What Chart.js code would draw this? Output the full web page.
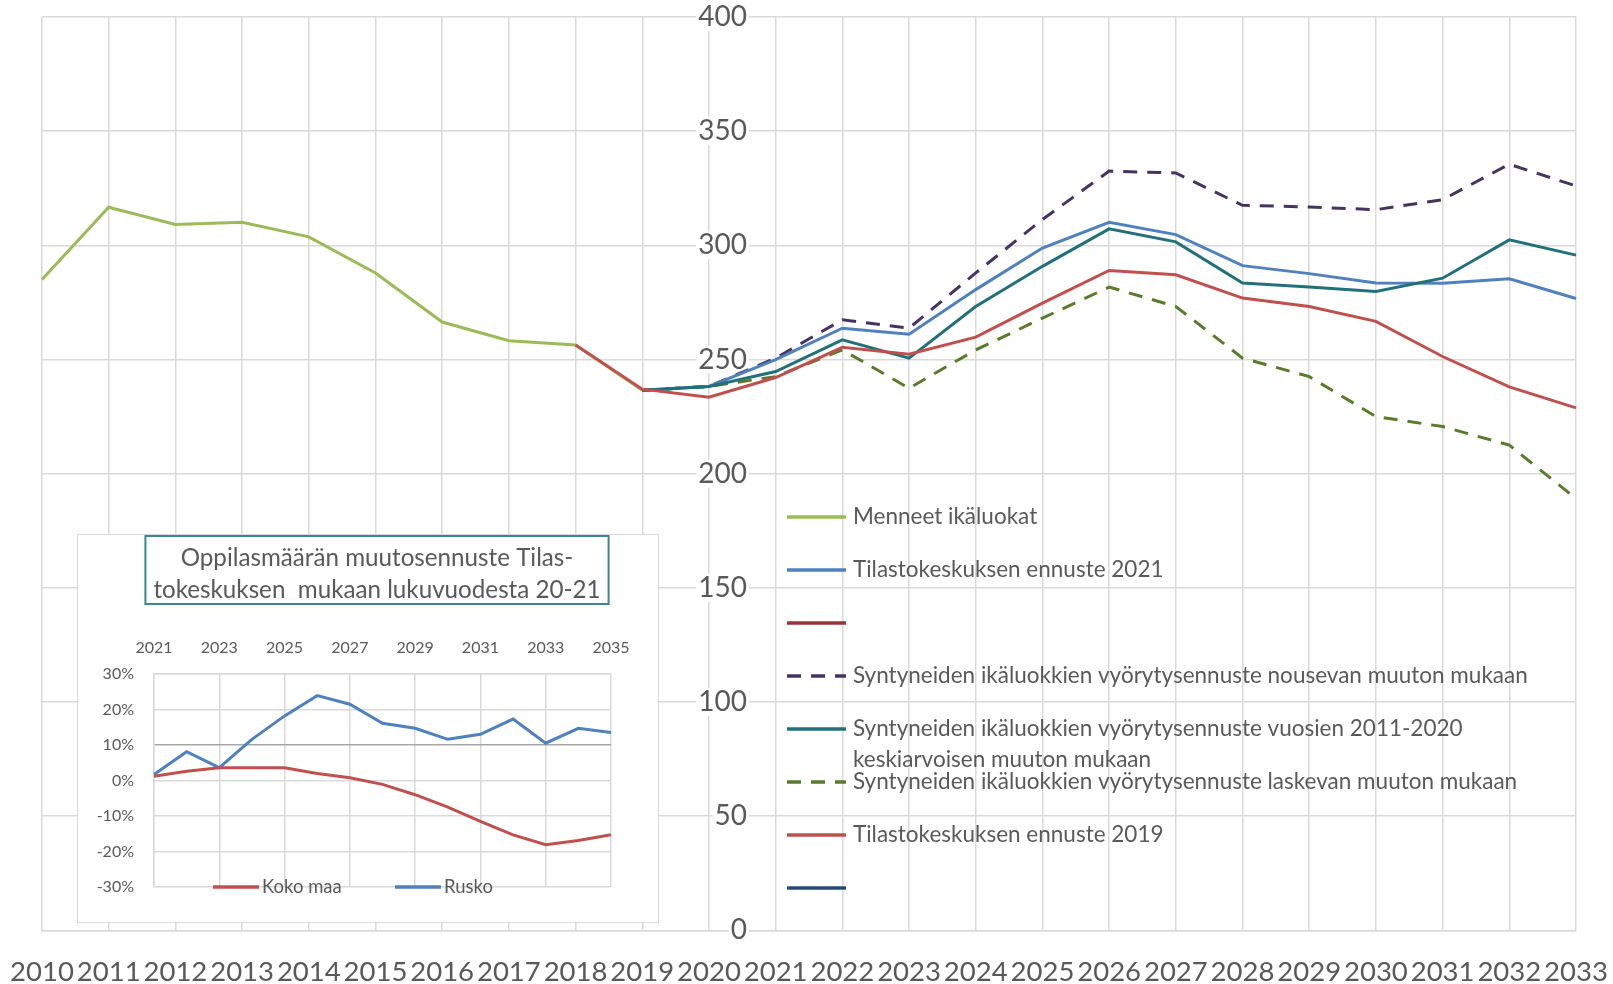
<!DOCTYPE html>
<html><head><meta charset="utf-8">
<script src="https://cdn.jsdelivr.net/npm/chart.js@4/dist/chart.umd.min.js"></script>
<style>
html,body{margin:0;padding:0;background:#fff;}
#wrap{position:relative;width:1613px;height:984px;overflow:hidden;}
#main{position:absolute;left:0;top:0;}
#insetBox{position:absolute;left:77px;top:534px;width:580px;height:387px;background:#fff;border:1px solid #d9d9d9;}
#inset{position:absolute;left:77px;top:534px;}
</style></head>
<body><div id="wrap">
<canvas id="main" width="1613" height="984"></canvas>
<div id="insetBox"></div>
<canvas id="inset" width="600" height="388"></canvas>
</div>
<script>
// ---- main chart data ----
const years = ['2010','2011','2012','2013','2014','2015','2016','2017','2018','2019','2020','2021',
               '2022','2023','2024','2025','2026','2027','2028','2029','2030','2031','2032','2033'];
const yTicks = [0, 50, 100, 150, 200, 250, 300, 350, 400];
const menneet = [285.0, 316.7, 309.1, 310.1, 303.7, 287.9, 266.4, 258.2, 256.3, 236.5,
                 null, null, null, null, null, null, null, null, null, null, null, null, null, null];
const ennuste2021 = [null, null, null, null, null, null, null, null, null, 236.5, 238.2, 249.9,
                     263.7, 261.1, 280.6, 298.8, 310.1, 304.7, 291.1, 287.6, 283.5, 283.4, 285.3, 276.7];
const tyhja1 = [];
const nousevan = [null, null, null, null, null, null, null, null, null, 236.5, 238.2, 250.6,
                  267.4, 263.7, 287.9, 311.3, 332.5, 331.7, 317.5, 316.8, 315.6, 320.0, 335.5, 326.0];
const keskiarvo = [null, null, null, null, null, null, null, null, null, 236.5, 238.2, 244.7,
                   258.6, 250.6, 273.2, 290.8, 307.2, 301.5, 283.5, 281.7, 279.8, 285.6, 302.4, 295.7];
const laskevan = [null, null, null, null, null, null, null, null, null, 236.5, 238.2, 242.5,
                  254.2, 237.4, 254.2, 268.1, 281.7, 273.2, 250.6, 242.5, 225.0, 220.6, 212.5, 189.1];
const ennuste2019 = [null, null, null, null, null, null, null, null, 256.3, 237.0, 233.5, 242.1,
                     255.3, 252.3, 259.8, 274.7, 289.0, 287.1, 276.9, 273.2, 266.7, 251.3, 238.0, 228.8];
const tyhja2 = [];
const seriesNames = [
  'Menneet ikäluokat',
  'Tilastokeskuksen ennuste 2021',
  '',
  'Syntyneiden ikäluokkien vyörytysennuste nousevan muuton mukaan',
  'Syntyneiden ikäluokkien vyörytysennuste vuosien 2011-2020\nkeskiarvoisen muuton mukaan',
  'Syntyneiden ikäluokkien vyörytysennuste laskevan muuton mukaan',
  'Tilastokeskuksen ennuste 2019',
  ''
];

// ---- inset chart data ----
const insetYears = ['2021','2022','2023','2024','2025','2026','2027','2028','2029','2030','2031','2032','2033','2034','2035'];
const insetTicks = [-30, -20, -10, 0, 10, 20, 30];
const kokoMaa = [1.2, 2.6, 3.6, 3.6, 3.6, 2.0, 0.8, -1.1, -4.0, -7.5, -11.5, -15.3, -18.1, -16.9, -15.3];
const rusko = [1.7, 8.1, 3.6, 11.6, 18.2, 23.9, 21.5, 16.1, 14.7, 11.6, 13.0, 17.3, 10.5, 14.7, 13.5];
const insetSeriesNames = ['Koko maa', 'Rusko'];
const insetTitle = ['Oppilasmäärän muutosennuste Tilas-', 'tokeskuksen  mukaan lukuvuodesta 20-21'];

const FONT = 'Lato';
const TXT = '#595959';
const GRID = '#d9d9d9';

const fixedLegend = {
  id: 'fixedLegend',
  afterDraw(chart, args, o) {
    if (!o || !o.items) return;
    const ctx = chart.ctx, ca = chart.chartArea;
    ctx.save();
    o.items.forEach((it) => {
      const ds = chart.data.datasets[it.ds];
      const x = ca.left + it.dx;
      const y = (it.fromBottom ? ca.bottom : ca.top) + it.dy;
      ctx.beginPath();
      ctx.setLineDash(ds.borderDash || []);
      ctx.strokeStyle = ds.borderColor;
      ctx.lineWidth = o.lineWidth;
      ctx.moveTo(x, y);
      ctx.lineTo(x + o.sampleLen, y);
      ctx.stroke();
      ctx.setLineDash([]);
      ctx.fillStyle = o.color;
      ctx.font = o.font;
      ctx.textBaseline = 'middle';
      ctx.textAlign = 'left';
      String(ds.label).split('\n').forEach((t, j) => {
        if (t) ctx.fillText(t, x + o.sampleLen + o.gap, y + j * o.lineGap);
      });
    });
    ctx.restore();
  }
};

// title drawn in the reserved top padding of the inset, with its frame
const boxedTitle = {
  id: 'boxedTitle',
  afterDraw(chart, args, o) {
    if (!o || !o.lines) return;
    const ctx = chart.ctx;
    ctx.save();
    ctx.font = o.font;
    ctx.fillStyle = o.color;
    ctx.textAlign = 'center';
    ctx.textBaseline = 'middle';
    const cx = chart.width / 2;
    const w = Math.max(...o.lines.map(t => ctx.measureText(t).width));
    o.lines.forEach((t, j) => ctx.fillText(t, cx, o.firstLineY + j * o.lineGap));
    ctx.strokeStyle = o.frameColor;
    ctx.lineWidth = o.frameWidth;
    ctx.strokeRect(cx - w / 2 - o.padX, o.frameTop, w + 2 * o.padX, o.frameHeight);
    ctx.restore();
  }
};

function lineDs(label, data, color, dash, order) {
  return { label, data, borderColor: color, backgroundColor: color, borderWidth: 3,
           borderDash: dash || [], pointRadius: 0, tension: 0, fill: false, order };
}

new Chart(document.getElementById('main'), {
  type: 'line',
  data: {
    labels: years,
    datasets: [
      lineDs(seriesNames[0], menneet, '#9BBB59', null, 6),
      lineDs(seriesNames[1], ennuste2021, '#4F81BD', null, 3),
      lineDs(seriesNames[2], tyhja1, '#943634', null, 7),
      lineDs(seriesNames[3], nousevan, '#453463', [14, 10], 4),
      lineDs(seriesNames[4], keskiarvo, '#22707A', null, 2),
      lineDs(seriesNames[5], laskevan, '#5A7B2C', [14, 10], 5),
      lineDs(seriesNames[6], ennuste2019, '#C0504D', null, 1),
      lineDs(seriesNames[7], tyhja2, '#264A7C', null, 8)
    ]
  },
  options: {
    responsive: false,
    animation: false,
    devicePixelRatio: 1,
    layout: { padding: { left: 42, right: 37, top: 17, bottom: 0 } },
    scales: {
      x: {
        type: 'category',
        offset: false,
        grid: { color: GRID, lineWidth: 1.5, drawTicks: true, tickLength: 29, tickColor: 'rgba(0,0,0,0)' },
        border: { color: GRID, width: 1.5 },
        ticks: { autoSkip: false, maxRotation: 0, minRotation: 0, padding: 0,
                 color: TXT, font: { family: FONT, size: 27.5, lineHeight: 0.9 } }
      },
      y: {
        position: { x: 10.57 },
        min: 0, max: 400,
        afterBuildTicks: (s) => { s.ticks = yTicks.map(v => ({ value: v })); },
        grid: { color: GRID, lineWidth: 1.5, drawTicks: false },
        border: { display: false },
        ticks: { padding: 0, color: TXT, font: { family: FONT, size: 28, lineHeight: 1 },
                 showLabelBackdrop: true, backdropColor: '#ffffff',
                 backdropPadding: { top: 0, bottom: 0, left: 2, right: 2 } }
      }
    },
    plugins: {
      legend: { display: false },
      tooltip: { enabled: false },
      fixedLegend: {
        sampleLen: 59, gap: 7, lineWidth: 3.5, lineGap: 31,
        font: '22.5px ' + FONT, color: TXT,
        items: [0, 1, 2, 3, 4, 5, 6, 7].map(i => ({ ds: i, dx: 745, dy: 500 + i * 53 }))
      }
    }
  },
  plugins: [fixedLegend]
});

new Chart(document.getElementById('inset'), {
  type: 'line',
  data: {
    labels: insetYears,
    datasets: [
      lineDs(insetSeriesNames[0], kokoMaa, '#C0504D', null, 1),
      lineDs(insetSeriesNames[1], rusko, '#4F81BD', null, 2)
    ]
  },
  options: {
    responsive: false,
    animation: false,
    devicePixelRatio: 1,
    layout: { padding: { left: 0, right: 66, top: 106, bottom: 35 } },
    scales: {
      x: {
        type: 'category',
        position: 'top',
        offset: false,
        grid: { color: (c) => (c.index % 2 === 0 ? GRID : 'rgba(0,0,0,0)'), lineWidth: 1.5,
                drawTicks: true, tickLength: 18, tickColor: 'rgba(0,0,0,0)' },
        border: { color: GRID, width: 1.5 },
        ticks: { autoSkip: false, maxRotation: 0, minRotation: 0, padding: 0,
                 color: TXT, font: { family: FONT, size: 16, lineHeight: 1 },
                 callback: (v, i) => (i % 2 === 0 ? insetYears[i] : '') }
      },
      y: {
        position: 'left',
        min: -30, max: 30,
        afterBuildTicks: (s) => { s.ticks = insetTicks.map(v => ({ value: v })); },
        afterFit: (s) => { s.width = 77; },
        grid: { color: (c) => (c.tick && c.tick.value === 10 ? '#a6a6a6' : GRID), lineWidth: 1.5,
                drawTicks: true, tickLength: 20, tickColor: 'rgba(0,0,0,0)' },
        border: { color: GRID, width: 1.5 },
        ticks: { padding: 0, color: TXT, font: { family: FONT, size: 16, lineHeight: 1 },
                 callback: (v) => v + '%' }
      }
    },
    plugins: {
      legend: { display: false },
      tooltip: { enabled: false },
      boxedTitle: {
        lines: insetTitle, font: '24.2px ' + FONT, color: TXT, firstLineY: 24.6, lineGap: 32,
        frameColor: '#3A8691', frameWidth: 2, padX: 8, frameTop: 2, frameHeight: 68
      },
      fixedLegend: {
        sampleLen: 46, gap: 3, lineWidth: 3.5, lineGap: 0,
        font: '18.5px ' + FONT, color: TXT,
        items: [{ ds: 0, dx: 59, dy: 0, fromBottom: true }, { ds: 1, dx: 241, dy: 0, fromBottom: true }]
      }
    }
  },
  plugins: [fixedLegend, boxedTitle]
});
</script>
</body></html>
